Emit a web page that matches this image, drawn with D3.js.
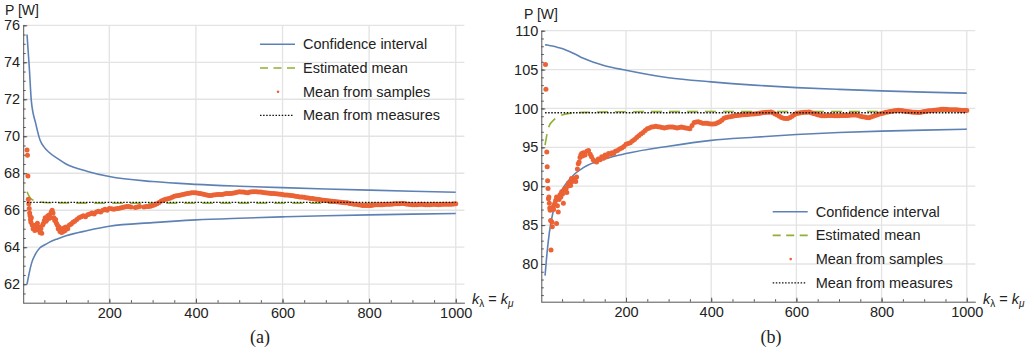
<!DOCTYPE html>
<meta charset="utf-8">
<style>
body { margin: 0; background: #fff; }
text { font-family: "Liberation Sans", Arial, sans-serif; fill: #222; }
.grid line { stroke: #e3e3e3; stroke-width: 1.3px; }
.axis path, .axis line { stroke: #555; }
.axis text { font-size: 14.5px; fill: #222; }
</style>
<svg width="1034" height="353"></svg>
<script src="https://d3js.org/d3.v7.min.js"></script>
<script>

// ---- data ----
var ciK = [10, 15, 20, 30, 40, 50, 60, 80, 100, 150, 200, 300, 400, 500, 600, 700, 800, 900, 1000];

var ciUpperA = [75.5, 73.8, 71.9, 70.7, 69.8, 69.4, 69.15, 68.8, 68.5, 68.1, 67.82, 67.55, 67.4, 67.3, 67.22, 67.15, 67.09, 67.03, 66.97];
var ciLowerA = [62.0, 62.6, 63.1, 63.65, 63.97, 64.12, 64.25, 64.45, 64.62, 64.9, 65.13, 65.33, 65.48, 65.57, 65.64, 65.7, 65.75, 65.79, 65.82];
var ciUpperB = [108.2, 108.15, 108.1, 108.0, 107.85, 107.7, 107.5, 107.0, 106.45, 105.5, 104.92, 103.95, 103.42, 103.0, 102.68, 102.45, 102.26, 102.1, 101.97];
var ciLowerB = [78.5, 81.6, 84.0, 87.0, 88.6, 89.6, 90.4, 91.6, 92.4, 93.5, 94.2, 95.15, 95.9, 96.3, 96.65, 96.9, 97.08, 97.22, 97.34];

var estKA = [10, 15, 20, 30, 50, 100, 200, 400, 600, 800, 1000];
var estA  = [67.0, 66.75, 66.6, 66.5, 66.42, 66.39, 66.38, 66.38, 66.38, 66.38, 66.38];
var estKB = [10, 15, 20, 30, 40, 60, 100, 200, 400, 600, 800, 1000];
var estB  = [95.3, 96.8, 97.8, 98.5, 98.9, 99.3, 99.5, 99.58, 99.6, 99.6, 99.6, 99.6];

var measureA = 66.42;
var measureB = 99.45;

var samplesA = [
  [10,69.26],[11,68.97],[12,67.85],[13,66.6],[14,66.35],[15,66.1],[16,65.85],[17,65.7],[18,65.5],[19,65.35],
  [20,65.6],[22,65.2],[24,65.0],[26,65.1],[28,64.9],[30,65.2],[32,65.0],[34,65.3],[36,64.95],[38,65.1],
  [40,64.8],[42,65.0],[44,64.75],[46,65.2],[48,65.3],[50,65.45],[52,65.6],[54,65.4],[56,65.5],[58,65.7],
  [60,65.55],[62,65.75],[64,65.6],[66,65.9],[68,66.0],[70,65.85],[72,65.6],[74,65.45],[76,65.5],[78,65.3],
  [80,65.2],[82,65.0],[84,65.1],[86,64.85],[88,64.9],[90,64.8],[92,65.0],[94,64.85],[96,65.05],[98,64.9],
  [100,65.1],[104,65.0],[108,65.2],[112,65.25],[116,65.35],[120,65.4],[125,65.5],[130,65.6],[135,65.65],[140,65.7],
  [145,65.65],[150,65.75],[155,65.8],[160,65.85],[165,65.8],[170,65.9],[175,65.95],[180,65.9],[185,66.0],[190,66.05],
  [195,66.0],[200,66.1],[205,66.08],[210,66.05],[215,66.08],[220,66.1],[225,66.12],[230,66.15],[235,66.18],[240,66.2],
  [245,66.2],[250,66.18],[260,66.15],[265,66.17],[270,66.2],[280,66.18],[285,66.2],[290,66.2],[295,66.22],[300,66.25],
  [305,66.3],[310,66.35],[315,66.42],[320,66.5],[325,66.55],[330,66.6],[335,66.62],[340,66.65],[345,66.7],[350,66.75],
  [355,66.78],[360,66.8],[365,66.82],[370,66.85],[375,66.88],[380,66.9],[385,66.92],[390,66.95],[395,66.95],[400,66.95],
  [405,66.92],[410,66.9],[415,66.88],[420,66.85],[425,66.82],[430,66.8],[435,66.8],[440,66.82],[445,66.84],[450,66.85],
  [455,66.85],[460,66.85],[465,66.88],[470,66.9],[475,66.9],[480,66.9],[485,66.92],[490,66.95],[495,66.97],[500,67.0],
  [505,66.99],[510,66.98],[515,66.96],[520,66.95],[525,66.98],[530,67.0],[535,67.0],[540,67.0],[545,66.99],[550,66.98],
  [555,66.96],[560,66.95],[565,66.93],[570,66.92],[575,66.91],[580,66.9],[585,66.89],[590,66.88],[595,66.86],[600,66.85],
  [605,66.83],[610,66.82],[615,66.81],[620,66.8],[625,66.78],[630,66.76],[635,66.74],[640,66.72],[645,66.71],[650,66.7],
  [655,66.68],[660,66.66],[665,66.64],[670,66.63],[675,66.61],[680,66.6],[685,66.58],[690,66.56],[695,66.54],[700,66.52],
  [705,66.51],[710,66.5],[715,66.48],[720,66.47],[725,66.46],[730,66.45],[735,66.43],[740,66.42],[745,66.41],[750,66.4],
  [755,66.37],[760,66.35],[765,66.33],[770,66.32],[775,66.3],[780,66.28],[785,66.26],[790,66.25],[795,66.25],[800,66.25],
  [805,66.26],[810,66.28],[815,66.29],[820,66.3],[825,66.3],[830,66.3],[835,66.31],[840,66.32],[845,66.33],[850,66.33],
  [855,66.34],[860,66.35],[865,66.35],[870,66.35],[875,66.36],[880,66.36],[885,66.34],[890,66.33],[895,66.31],[900,66.3],
  [905,66.3],[910,66.3],[915,66.31],[920,66.32],[925,66.31],[930,66.3],[935,66.3],[940,66.3],[945,66.31],[950,66.32],
  [955,66.31],[960,66.3],[965,66.31],[970,66.32],[975,66.33],[980,66.33],[985,66.33],[990,66.33],[995,66.34],[1000,66.35]
];

var samplesB = [
  [11,105.66],[12,102.48],[14,94.4],[15,92.5],[16,90.7],[17,89.7],[18,88.4],[19,88.6],[20,87.8],[21,87.2],
  [22,86.9],[23,85.6],[24,81.8],[26,85.4],[27,84.8],[28,87.3],[30,87.0],[32,87.6],[33,87.8],[35,88.2],
  [37,88.6],[37,85.2],[39,87.5],[41,86.7],[43,88.3],[45,88.9],[47,88.6],[49,89.3],[51,89.0],[53,87.8],
  [55,89.5],[57,89.7],[59,89.6],[61,89.2],[63,90.0],[65,90.4],[67,90.2],[69,90.5],[70,90.1],[72,91.0],
  [74,90.6],[76,90.9],[78,91.0],[80,90.8],[82,90.6],[84,91.2],[86,92.2],[88,92.9],[90,93.1],[92,93.7],
  [94,94.0],[96,94.2],[98,93.9],[100,94.3],[104,94.0],[108,94.5],[112,94.6],[116,94.1],[119,93.8],[123,93.4],
  [127,93.2],[131,93.1],[135,93.5],[139,93.4],[143,93.8],[147,93.6],[151,94.0],[155,93.8],[159,94.2],[163,94.1],
  [167,94.3],[171,94.2],[175,94.5],[180,94.6],[185,94.8],[190,94.9],[195,95.1],[200,95.4],[205,95.5],[210,95.6],
  [215,95.8],[220,96.0],[225,96.25],[230,96.5],[235,96.7],[240,96.9],[245,97.15],[250,97.4],[255,97.5],[260,97.6],
  [265,97.65],[270,97.7],[275,97.65],[280,97.6],[285,97.55],[290,97.5],[295,97.55],[300,97.6],[305,97.6],[310,97.6],
  [315,97.55],[320,97.5],[325,97.55],[330,97.6],[335,97.55],[340,97.5],[345,97.45],[350,97.4],[355,97.8],[360,98.2],
  [365,98.25],[370,98.3],[375,98.2],[380,98.1],[385,98.1],[390,98.1],[395,98.05],[400,98.0],[405,98.0],[410,98.05],
  [415,98.15],[420,98.3],[425,98.5],[430,98.75],[435,98.85],[440,98.9],[445,98.95],[450,99.0],[455,99.05],[460,99.1],
  [465,99.12],[470,99.15],[475,99.18],[480,99.2],[485,99.22],[490,99.25],[495,99.28],[500,99.3],[505,99.32],[510,99.35],
  [515,99.4],[520,99.45],[525,99.48],[530,99.5],[535,99.52],[540,99.55],[545,99.45],[550,99.3],[555,99.15],[560,99.0],
  [565,98.85],[570,98.75],[575,98.7],[580,98.7],[585,98.85],[590,99.0],[595,99.2],[600,99.35],[605,99.4],[610,99.45],
  [615,99.48],[620,99.5],[625,99.52],[630,99.55],[635,99.45],[640,99.35],[645,99.28],[650,99.2],[655,99.12],[660,99.05],
  [665,99.05],[670,99.05],[675,99.08],[680,99.1],[685,99.08],[690,99.05],[695,99.05],[700,99.05],[705,99.08],[710,99.1],
  [715,99.1],[720,99.1],[725,99.12],[730,99.15],[735,99.15],[740,99.15],[745,99.08],[750,99.0],[755,98.95],[760,98.9],
  [765,98.85],[770,98.8],[775,98.9],[780,99.0],[785,99.1],[790,99.2],[795,99.28],[800,99.35],[805,99.42],[810,99.5],
  [815,99.55],[820,99.6],[825,99.65],[830,99.7],[835,99.74],[840,99.78],[845,99.74],[850,99.7],[855,99.65],[860,99.6],
  [865,99.58],[870,99.55],[875,99.52],[880,99.5],[885,99.49],[890,99.48],[895,99.54],[900,99.6],[905,99.65],[910,99.7],
  [915,99.72],[920,99.75],[925,99.78],[930,99.8],[935,99.85],[940,99.9],[945,99.9],[950,99.9],[955,99.88],[960,99.85],
  [965,99.85],[970,99.85],[975,99.82],[980,99.8],[985,99.78],[990,99.75],[995,99.74],[1000,99.74]
];

var xTicks = [200, 400, 600, 800, 1000];
var xMinor = d3.range(50, 1001, 50);
var legendLabels = ["Confidence interval", "Estimated mean", "Mean from samples", "Mean from measures"];

// ---- layout ----
var blue = "#5e81b5", green = "#8fb032", orange = "#eb6235";

var panels = [
  { x0: 22.7, x1: 464.4, top: 25.3, bottom: 302.7, yDomain: [61, 76],
    yTicks: d3.range(62, 77, 2), yMinor: d3.range(61.5, 76.01, 0.5),
    upper: ciUpperA, lower: ciLowerA, estK: estKA, est: estA, samples: samplesA, measure: measureA,
    legend: [260, 44.3], tag: "(a)", tagX: 260, pY: 14.5, pX: 5, kX: 472 },
  { x0: 540.8, x1: 975.3, top: 30.7, bottom: 301.7, yDomain: [75.15, 110],
    yTicks: d3.range(80, 111, 5), yMinor: d3.range(76, 110.01, 1),
    upper: ciUpperB, lower: ciLowerB, estK: estKB, est: estB, samples: samplesB, measure: measureB,
    legend: [772.7, 211.7], tag: "(b)", tagX: 771, pY: 18.5, pX: 524, kX: 983 }
];

var svg = d3.select("svg");

panels.forEach(function(p) {
  var x = d3.scaleLinear().domain([0, 1020]).range([p.x0, p.x1]);
  var y = d3.scaleLinear().domain(p.yDomain).range([p.bottom, p.top]);
  var g = svg.append("g");

  // grid
  var grid = g.append("g").attr("class", "grid");
  grid.selectAll(".h").data(p.yTicks).enter().append("line")
      .attr("x1", p.x0).attr("x2", p.x1)
      .attr("y1", function(d) { return y(d); }).attr("y2", function(d) { return y(d); });
  grid.selectAll(".v").data(xTicks).enter().append("line")
      .attr("y1", p.top).attr("y2", p.bottom)
      .attr("x1", function(d) { return x(d); }).attr("x2", function(d) { return x(d); });

  // axes (ticks pointing inward)
  g.append("g").attr("class", "axis").attr("transform", "translate(0," + p.bottom + ")")
      .call(d3.axisBottom(x).tickValues(xTicks).tickFormat(d3.format("d"))
        .tickSize(-4).tickSizeOuter(0).tickPadding(5.5));
  g.append("g").attr("class", "axis").attr("transform", "translate(0," + p.bottom + ")")
      .call(d3.axisBottom(x).tickValues(xMinor).tickSize(-2.5).tickSizeOuter(0).tickFormat(""))
      .select(".domain").remove();
  var ya = g.append("g").attr("class", "axis").attr("transform", "translate(" + (p.x0 + 0.5) + ",0)")
      .call(d3.axisLeft(y).tickValues(p.yTicks).tickSize(-4).tickSizeOuter(0).tickPadding(3));
  g.append("g").attr("class", "axis").attr("transform", "translate(" + (p.x0 + 0.5) + ",0)")
      .call(d3.axisLeft(y).tickValues(p.yMinor).tickSize(-2.5).tickSizeOuter(0).tickFormat(""))
      .select(".domain").remove();
  ya.selectAll("text").attr("x", -3);

  // confidence interval
  var line = d3.line().curve(d3.curveMonotoneX)
      .x(function(d) { return x(d[0]); }).y(function(d) { return y(d[1]); });
  [p.upper, p.lower].forEach(function(vals) {
    g.append("path")
        .datum(ciK.map(function(k, i) { return [k, vals[i]]; }))
        .attr("d", line).attr("fill", "none").attr("stroke", blue).attr("stroke-width", 1.6);
  });

  // estimated mean
  g.append("path")
      .datum(p.estK.map(function(k, i) { return [k, p.est[i]]; }))
      .attr("d", line).attr("fill", "none").attr("stroke", green)
      .attr("stroke-width", 1.6).attr("stroke-dasharray", "11,7");

  // samples
  g.append("g").selectAll("circle").data(p.samples).enter().append("circle")
      .attr("cx", function(d) { return x(d[0]); })
      .attr("cy", function(d) { return y(d[1]); })
      .attr("r", 2.5).attr("fill", orange);

  // mean from measures
  g.append("line")
      .attr("x1", x(10)).attr("x2", x(1000))
      .attr("y1", y(p.measure)).attr("y2", y(p.measure))
      .attr("stroke", "#111").attr("stroke-width", 1.3).attr("stroke-dasharray", "1.5,1.6");

  // labels
  g.append("text").attr("x", p.pX).attr("y", p.pY).style("font-size", "14px").text("P [W]");
  var kt = g.append("text").attr("x", p.kX).attr("y", 304).style("font-size", "14.5px");
  kt.append("tspan").style("font-style", "italic").text("k");
  kt.append("tspan").attr("dy", 3).style("font-size", "10px").text("λ");
  kt.append("tspan").attr("dy", -3).text(" = ");
  kt.append("tspan").style("font-style", "italic").text("k");
  kt.append("tspan").attr("dy", 3).style("font-size", "10px").style("font-style", "italic").text("μ");
  g.append("text").attr("x", p.tagX).attr("y", 343).attr("text-anchor", "middle")
      .style("font-family", "'Liberation Serif', 'DejaVu Serif', serif").style("font-size", "18px")
      .text(p.tag);

  // legend
  var lg = g.append("g").attr("transform", "translate(" + p.legend[0] + "," + p.legend[1] + ")");
  var row = lg.selectAll("g").data(legendLabels).enter().append("g")
      .attr("transform", function(d, i) { return "translate(0," + (i * 23.7) + ")"; });
  row.append("text").attr("x", 43).attr("dy", "0.35em").style("font-size", "14.5px")
      .text(function(d) { return d; });
  row.filter(function(d, i) { return i === 0; }).append("line")
      .attr("x1", 0).attr("x2", 35).attr("stroke", blue).attr("stroke-width", 1.6);
  row.filter(function(d, i) { return i === 1; }).append("line")
      .attr("x1", 0).attr("x2", 35).attr("stroke", green).attr("stroke-width", 1.6)
      .attr("stroke-dasharray", "8,5.5");
  row.filter(function(d, i) { return i === 2; }).append("circle")
      .attr("cx", 18).attr("r", 1.3).attr("fill", orange);
  row.filter(function(d, i) { return i === 3; }).append("line")
      .attr("x1", 0).attr("x2", 34).attr("stroke", "#111").attr("stroke-width", 1.2)
      .attr("stroke-dasharray", "1.5,1.6");
});

</script>
